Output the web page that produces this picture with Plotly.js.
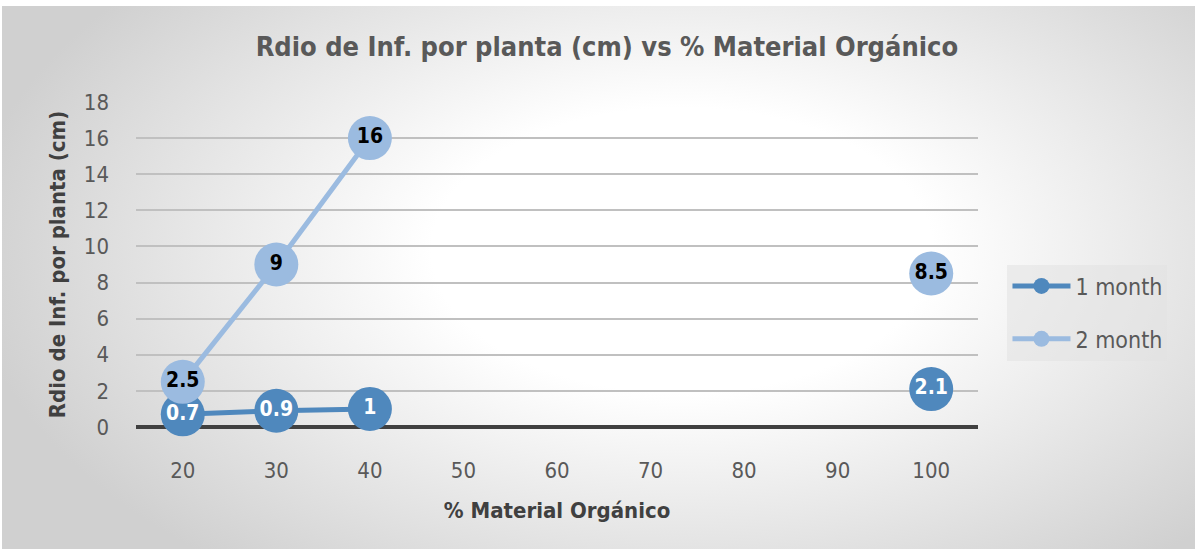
<!DOCTYPE html>
<html>
<head>
<meta charset="utf-8">
<script src="https://cdn.plot.ly/plotly-3.0.1.min.js"></script>
<style>
html,body{margin:0;padding:0;background:#fff;}
#wrap{position:absolute;left:2px;top:6px;width:1193px;height:543px;
 background:radial-gradient(ellipse 60% 75% at 57% 45%, #ffffff 35%, #d0d0d0 100%);}
#chart{position:absolute;left:0;top:0;width:1197px;height:551px;}
</style>
</head>
<body>
<div id="wrap"></div>
<div id="chart"></div>
<script>
const categories = ["20","30","40","50","60","70","80","90","100"];
const month1 = [0.7, 0.9, 1, null, null, null, null, null, 2.1];
const month2 = [2.5, 9, 16, null, null, null, null, null, 8.5];
const seriesNames = ["1 month", "2 month"];
const labels1 = month1.map(v => v === null ? "" : String(v));
const labels2 = month2.map(v => v === null ? "" : String(v));

const FONT = '"Liberation Sans Narrow", "DejaVu Sans Condensed", "Open Sans", sans-serif';
const c1 = "#4f88bd", c2 = "#9bbbe0";

const traces = [
 {x: categories, y: month1, name: seriesNames[0], legendgroup: "a", type: "scatter", mode: "lines+markers+text",
  line: {color: c1, width: 5}, marker: {color: c1, size: 44},
  text: labels1, textposition: "middle center",
  textfont: {family: FONT, size: 21, color: "#ffffff", weight: "bold"},
  connectgaps: false, cliponaxis: false, hoverinfo: "x+y"},
 {x: categories, y: month2, name: seriesNames[1], legendgroup: "b", type: "scatter", mode: "lines+markers+text",
  line: {color: c2, width: 5}, marker: {color: c2, size: 44},
  text: labels2, textposition: "middle center",
  textfont: {family: FONT, size: 21, color: "#000000", weight: "bold"},
  connectgaps: false, cliponaxis: false, hoverinfo: "x+y"}
];

const layout = {
 width: 1197, height: 551,
 paper_bgcolor: "rgba(0,0,0,0)", plot_bgcolor: "rgba(0,0,0,0)",
 margin: {l: 136, r: 219, t: 102, b: 124, pad: 0},
 font: {family: FONT, color: "#595959"},
 title: {text: "<b>Rdio de Inf. por planta (cm) vs % Material Orgánico</b>",
  font: {family: FONT, size: 27, color: "#595959"}, x: 0.507, xanchor: "center", y: 0.915, yanchor: "middle"},
 xaxis: {type: "category", range: [-0.5, 8.5], showgrid: false, zeroline: false,
  showline: false, ticks: "", ticklabelstandoff: 28,
  tickfont: {family: FONT, size: 22, color: "#595959"},
  title: {text: "<b>% Material Orgánico</b>", font: {family: FONT, size: 22, color: "#404040"}, standoff: 20}},
 yaxis: {range: [0, 18], dtick: 2, showgrid: true, gridcolor: "#c0c0c0", gridwidth: 2,
  zeroline: true, zerolinecolor: "#404040", zerolinewidth: 4, showline: false, ticks: "",
  ticklabelstandoff: 26,
  tickfont: {family: FONT, size: 22, color: "#595959"},
  title: {text: "<b>Rdio de Inf. por planta (cm)</b>", font: {family: FONT, size: 22, color: "#404040"}, standoff: 12}},
 legend: {x: 1.035, xanchor: "left", y: 0.5, yanchor: "top",
  bgcolor: "rgba(225,225,225,0.55)", borderwidth: 0, itemwidth: 58,
  font: {family: FONT, size: 23, color: "#595959"}, tracegroupgap: 20},
 showlegend: true
};

Plotly.newPlot("chart", traces, layout, {displayModeBar: false, staticPlot: true});
</script>
</body>
</html>
